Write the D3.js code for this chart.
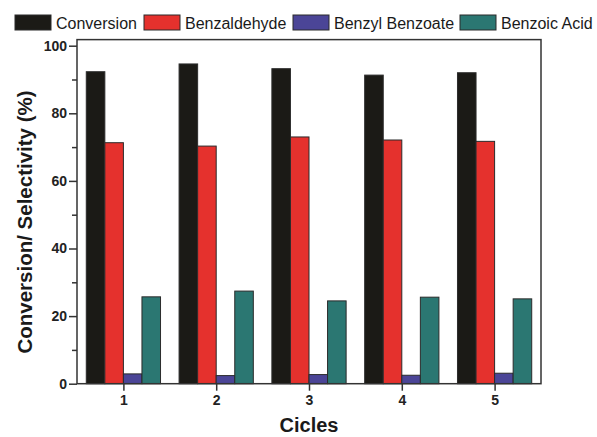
<!DOCTYPE html>
<html><head><meta charset="utf-8">
<script src="https://cdn.jsdelivr.net/npm/d3@7/dist/d3.min.js"></script>
<style>body{margin:0;background:#fff}svg{display:block}text{font-family:"Liberation Sans",Arial,sans-serif}</style>
</head><body>
<svg id="c" width="597" height="437"></svg>
<script>
const cycles = ["1","2","3","4","5"];
const seriesNames = ["Conversion","Benzaldehyde","Benzyl Benzoate","Benzoic Acid"];
const conversion = [92.3, 94.6, 93.2, 91.3, 92.0];
const benzaldehyde = [71.3, 70.3, 73.0, 72.1, 71.7];
const benzylBenzoate = [2.9, 2.4, 2.7, 2.5, 3.1];
const benzoicAcid = [25.7, 27.4, 24.5, 25.6, 25.1];
const yTicks = [0,20,40,60,80,100];
const yMinorTicks = [10,30,50,70,90];
const colors = ["#1b1a16","#e5312d","#4b4597","#2b7772"];
const seriesValues = [conversion, benzaldehyde, benzylBenzoate, benzoicAcid];
const yMax = 101.8;

const svg = d3.select("#c");
const L = 77, R = 541;
const x0 = d3.scaleBand().domain(cycles).range([L, R]).paddingInner(0.2).paddingOuter(0.1);
const x1 = d3.scaleBand().domain(seriesNames).range([0, x0.bandwidth()]);
const y = d3.scaleLinear().domain([0, 100]).range([383.7, 45.7]);

// bars
const g = svg.append("g");
cycles.forEach((c, i) => {
  seriesNames.forEach((s, j) => {
    const v = seriesValues[j][i];
    g.append("rect")
      .attr("x", x0(c) + x1(s))
      .attr("y", y(v))
      .attr("width", x1.bandwidth())
      .attr("height", y(0) - y(v))
      .attr("fill", colors[j])
      .attr("stroke", "#2b2b2b")
      .attr("stroke-width", 1);
  });
});

// frame
svg.append("rect").attr("x", L).attr("y", y(yMax)).attr("width", R - L).attr("height", y(0) - y(yMax))
  .attr("fill", "none").attr("stroke", "#333").attr("stroke-width", 1.5);

// y axis
const yAxis = d3.axisLeft(y).tickValues(yTicks).tickSize(8).tickPadding(2).tickFormat(d3.format("d"));
const ya = svg.append("g").attr("transform", `translate(${L},0)`).call(yAxis);
ya.select(".domain").remove();
ya.selectAll("line").attr("stroke", "#333").attr("stroke-width", 1.5);
ya.selectAll("text").attr("font-size", 14).attr("font-weight", "bold").attr("fill", "#222")
  .attr("font-family", "Liberation Sans, Arial, sans-serif");
const yMinor = d3.axisLeft(y).tickValues(yMinorTicks).tickSize(5).tickFormat("");
const ym = svg.append("g").attr("transform", `translate(${L},0)`).call(yMinor);
ym.select(".domain").remove();
ym.selectAll("line").attr("stroke", "#333").attr("stroke-width", 1.5);

// x axis
const xScaleCenter = c => x0(c) + x0.bandwidth() / 2;
const xAxis = d3.axisBottom(d3.scalePoint().domain(cycles).range([xScaleCenter(cycles[0]), xScaleCenter(cycles[cycles.length-1])]))
  .tickSize(7).tickPadding(4);
const xa = svg.append("g").attr("transform", `translate(0,${y(0)})`).call(xAxis);
xa.select(".domain").remove();
xa.selectAll("line").attr("stroke", "#333").attr("stroke-width", 1.5);
xa.selectAll("text").attr("font-size", 14).attr("font-weight", "bold").attr("fill", "#222")
  .attr("font-family", "Liberation Sans, Arial, sans-serif");

// axis titles
svg.append("text").attr("x", (L + R) / 2).attr("y", 432).attr("text-anchor", "middle")
  .attr("font-size", 20).attr("font-weight", "bold").attr("fill", "#1a1a1a").text("Cicles");
svg.append("text").attr("transform", `translate(32,222) rotate(-90)`).attr("text-anchor", "middle")
  .attr("font-size", 20.5).attr("font-weight", "bold").attr("fill", "#1a1a1a").text("Conversion/ Selectivity (%)");

// legend
const legendX = [15, 144, 293, 460];
seriesNames.forEach((s, j) => {
  const lg = svg.append("g").attr("transform", `translate(${legendX[j]},15)`);
  lg.append("rect").attr("width", 36).attr("height", 15).attr("fill", colors[j]).attr("stroke", "#2b2b2b").attr("stroke-width", 1);
  lg.append("text").attr("x", 41).attr("y", 13.5).attr("font-size", 16).attr("fill", "#1a1a1a").text(s);
});
</script>
</body></html>
